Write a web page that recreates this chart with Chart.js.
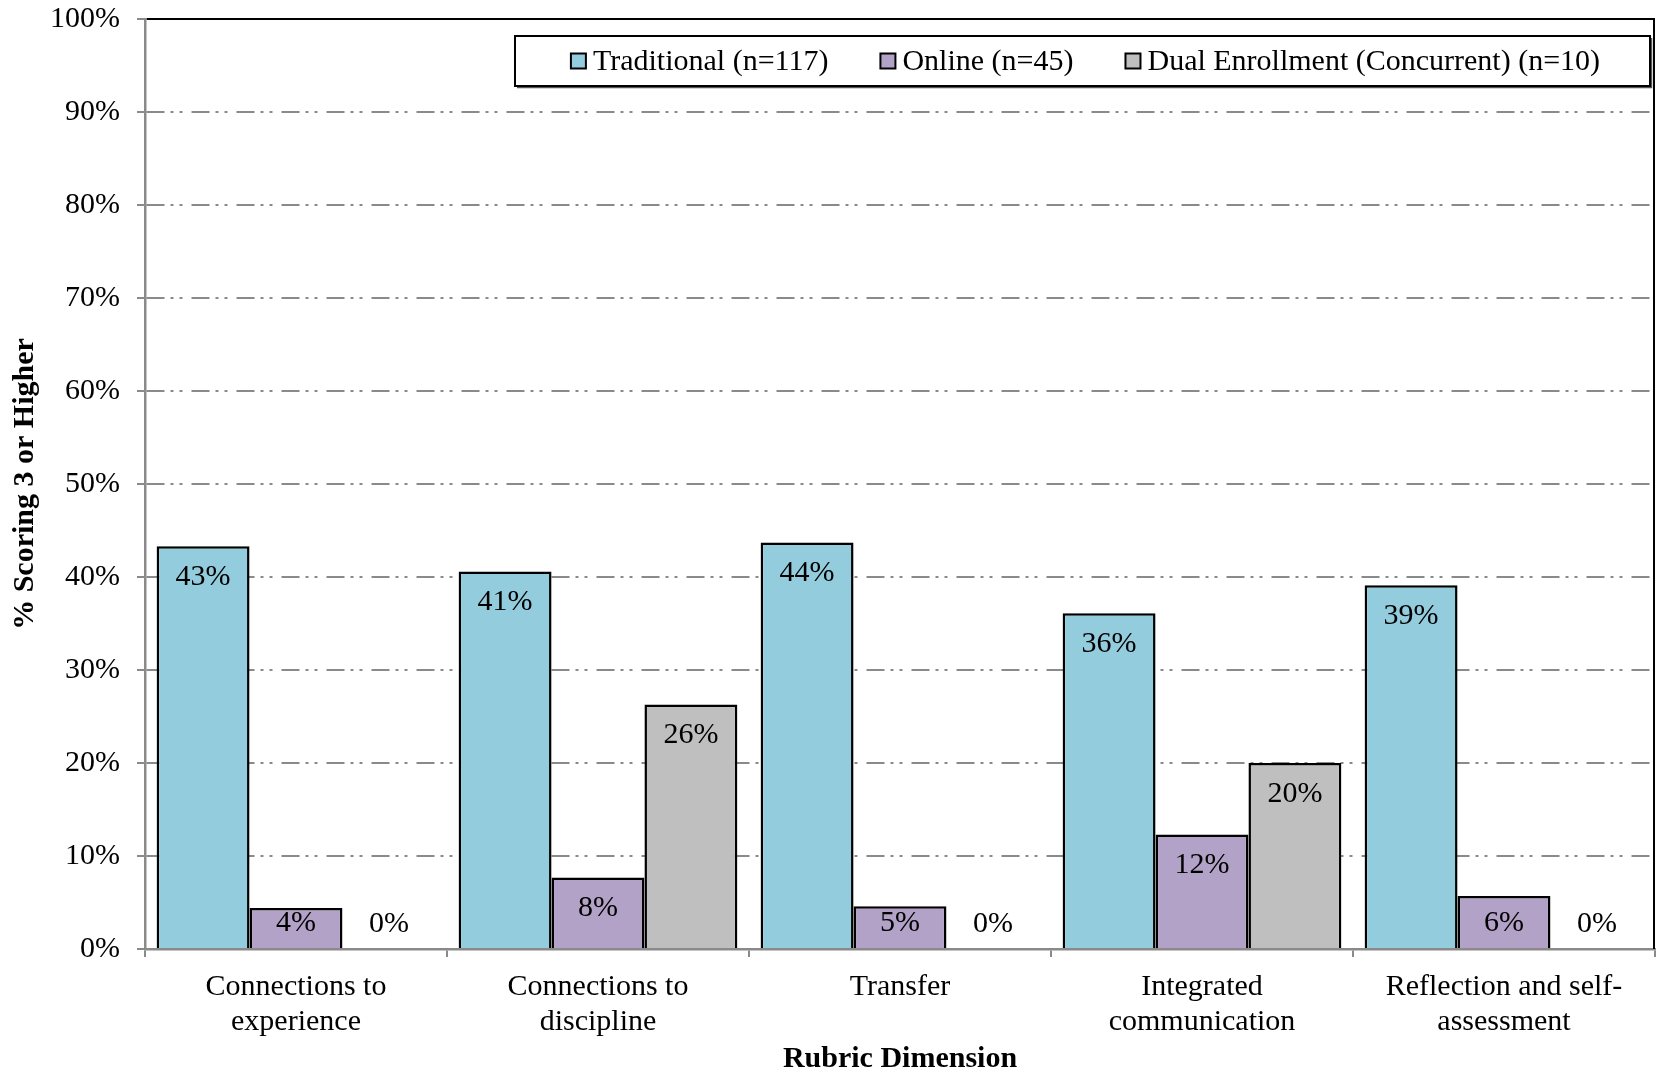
<!DOCTYPE html>
<html>
<head>
<meta charset="utf-8">
<title>% Scoring 3 or Higher by Rubric Dimension</title>
<script src="https://cdn.jsdelivr.net/npm/chart.js@4.4.1/dist/chart.umd.min.js"></script>
<style>
  html, body { margin: 0; padding: 0; background: #ffffff; }
  #wrap { width: 1659px; height: 1074px; }
</style>
</head>
<body>
<div id="wrap"><canvas id="chart" width="1659" height="1074"></canvas></div>
<script>
// Rubric dimensions (x categories), two-line labels
const categories = [
  ['Connections to', 'experience'],
  ['Connections to', 'discipline'],
  ['Transfer'],
  ['Integrated', 'communication'],
  ['Reflection and self-', 'assessment']
];

// Share of students scoring 3 or higher, in percent
const traditional = [43.3, 40.6, 43.7, 36.1, 39.1];
const online      = [4.4, 7.7, 4.6, 12.3, 5.7];
const dual        = [0, 26.3, 0, 20.0, 0];

const seriesNames = [
  'Traditional (n=117)',
  'Online (n=45)',
  'Dual Enrollment (Concurrent) (n=10)'
];

const yTicks = [0, 10, 20, 30, 40, 50, 60, 70, 80, 90, 100];

const SERIF = '"Liberation Serif", "Times New Roman", Times, serif';
const AXIS_GRAY = '#8a8a8a';
const DASH = [18, 6, 3, 6, 3, 9];

// Value labels inside the top of each bar (clamped so they stay above the baseline)
const barLabels = {
  id: 'barLabels',
  afterDatasetsDraw(chart) {
    const ctx = chart.ctx;
    ctx.save();
    ctx.font = '30px ' + SERIF;
    ctx.fillStyle = '#000';
    ctx.textAlign = 'center';
    ctx.textBaseline = 'middle';
    chart.data.datasets.forEach((ds, di) => {
      const meta = chart.getDatasetMeta(di);
      meta.data.forEach((bar, i) => {
        const v = ds.data[i];
        const y = Math.min(bar.y + 31, bar.base - 24.5);
        ctx.fillText(Math.round(v) + '%', bar.x, y);
      });
    });
    ctx.restore();
  }
};

// Right-hand frame line of the plot area
const plotFrame = {
  id: 'plotFrame',
  afterDraw(chart) {
    const { ctx, chartArea: a } = chart;
    ctx.save();
    ctx.strokeStyle = '#000';
    ctx.lineWidth = 2;
    ctx.beginPath();
    ctx.moveTo(a.right - 1, a.top);
    ctx.lineTo(a.right - 1, a.bottom);
    ctx.stroke();
    ctx.restore();
  }
};

// Boxed legend across the top of the plot area
const boxLegend = {
  id: 'boxLegend',
  afterDraw(chart) {
    const ctx = chart.ctx;
    const box = { left: 515, top: 36, right: 1650, bottom: 86 };
    ctx.save();
    // shadow edge
    ctx.strokeStyle = '#555';
    ctx.lineWidth = 1.5;
    ctx.beginPath();
    ctx.moveTo(box.left + 2, box.bottom + 1.5);
    ctx.lineTo(box.right + 1.5, box.bottom + 1.5);
    ctx.lineTo(box.right + 1.5, box.top + 2);
    ctx.stroke();
    ctx.fillStyle = '#fff';
    ctx.fillRect(box.left, box.top, box.right - box.left, box.bottom - box.top);
    ctx.strokeStyle = '#000';
    ctx.lineWidth = 2;
    ctx.strokeRect(box.left, box.top, box.right - box.left, box.bottom - box.top);

    ctx.font = '30px ' + SERIF;
    ctx.textBaseline = 'middle';
    ctx.textAlign = 'left';
    const marker = 15, mGap = 7, itemGap = 52;
    const items = chart.data.datasets.map(ds => ({
      text: ds.label, color: ds.backgroundColor, w: ctx.measureText(ds.label).width
    }));
    let total = 0;
    items.forEach((it, i) => { total += marker + mGap + it.w + (i ? itemGap : 0); });
    let x = (box.left + box.right) / 2 - total / 2 + 3;
    const cy = (box.top + box.bottom) / 2;
    items.forEach(it => {
      ctx.fillStyle = it.color;
      ctx.fillRect(x, cy - marker / 2, marker, marker);
      ctx.strokeStyle = '#000';
      ctx.lineWidth = 2;
      ctx.strokeRect(x, cy - marker / 2, marker, marker);
      ctx.fillStyle = '#000';
      ctx.fillText(it.text, x + marker + mGap, cy + 1);
      x += marker + mGap + it.w + itemGap;
    });
    ctx.restore();
  }
};

const colors = ['#93CDDD', '#B3A2C7', '#BFBFBF'];
const seriesData = [traditional, online, dual];

new Chart(document.getElementById('chart'), {
  type: 'bar',
  data: {
    labels: categories,
    datasets: seriesData.map((d, i) => ({
      label: seriesNames[i],
      data: d,
      backgroundColor: colors[i],
      borderColor: '#000',
      borderWidth: 2.5,
      borderSkipped: 'bottom',
      categoryPercentage: 0.923,
      barPercentage: 1.0
    }))
  },
  options: {
    responsive: false,
    devicePixelRatio: 1,
    animation: false,
    layout: { padding: { top: 19, right: 4, left: 0, bottom: 0 } },
    plugins: {
      legend: { display: false },
      tooltip: { enabled: false }
    },
    scales: {
      x: {
        offset: true,
        grid: {
          display: true,
          offset: true,
          drawOnChartArea: false,
          drawTicks: true,
          tickLength: 8,
          color: AXIS_GRAY,
          lineWidth: 2
        },
        border: { display: true, color: AXIS_GRAY, width: 2.5 },
        ticks: {
          color: '#000',
          font: { family: SERIF, size: 30, lineHeight: 1.167 },
          padding: 12.5,
          maxRotation: 0,
          minRotation: 0,
          autoSkip: false
        },
        title: {
          display: true,
          text: 'Rubric Dimension',
          color: '#000',
          font: { family: SERIF, size: 30, weight: 'bold', lineHeight: 1 },
          padding: { top: 0, bottom: 0 }
        },
        afterFit(scale) { scale.height = 125; }
      },
      y: {
        min: 0,
        max: 100,
        afterBuildTicks(scale) { scale.ticks = yTicks.map(v => ({ value: v })); },
        grid: {
          color: (c) => (c.tick && c.tick.value === 100) ? '#000' : AXIS_GRAY,
          lineWidth: 2,
          tickColor: AXIS_GRAY,
          tickLength: 8,
          tickBorderDash: [],
          drawTicks: true
        },
        border: {
          display: true,
          color: AXIS_GRAY,
          width: 2.5,
          dash: (c) => (c.tick && c.tick.value !== 0 && c.tick.value !== 100) ? DASH : []
        },
        ticks: {
          color: '#000',
          font: { family: SERIF, size: 30 },
          padding: 17,
          callback: (v) => v + '%'
        },
        title: {
          display: true,
          text: '% Scoring 3 or Higher',
          color: '#000',
          font: { family: SERIF, size: 30, weight: 'bold', lineHeight: 1 },
          padding: { top: 10, bottom: 0 }
        },
        afterFit(scale) {
          scale.width = 145;
          scale.paddingTop = 0;
          scale.paddingBottom = 0;
        }
      }
    }
  },
  plugins: [barLabels, plotFrame, boxLegend]
});
</script>
</body>
</html>
